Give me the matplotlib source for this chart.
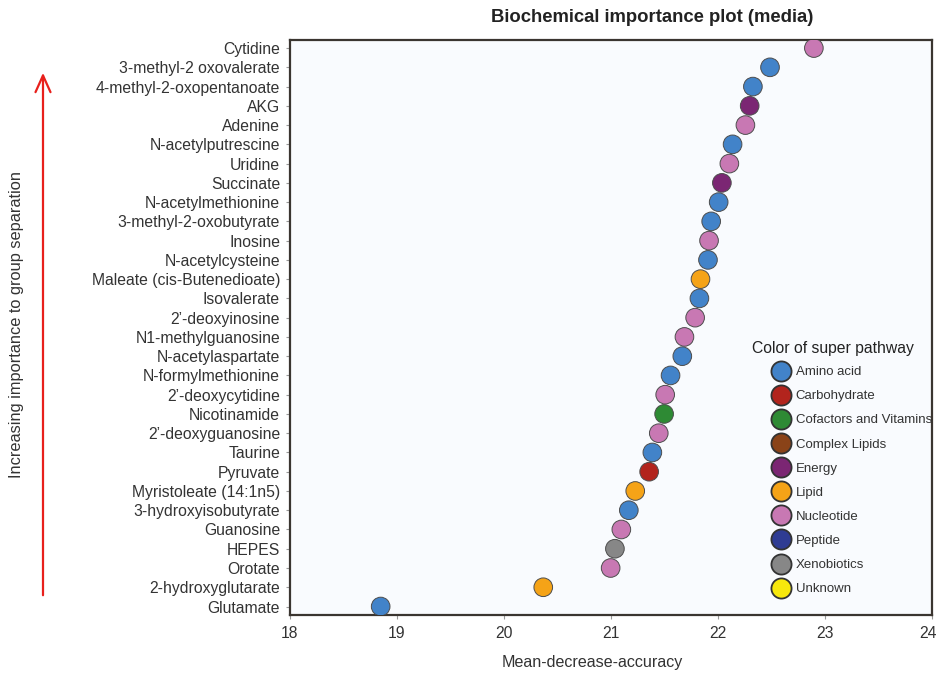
import matplotlib
matplotlib.use("Agg")
import matplotlib.pyplot as plt
import matplotlib.transforms as mtransforms
from matplotlib.lines import Line2D

plt.rcParams['font.family'] = ['Liberation Sans', 'DejaVu Sans']

# ---- data (top to bottom as shown) ----
metabolites = [
    "Cytidine", "3-methyl-2 oxovalerate", "4-methyl-2-oxopentanoate", "AKG",
    "Adenine", "N-acetylputrescine", "Uridine", "Succinate",
    "N-acetylmethionine", "3-methyl-2-oxobutyrate", "Inosine",
    "N-acetylcysteine", "Maleate (cis-Butenedioate)", "Isovalerate",
    "2\u2019-deoxyinosine", "N1-methylguanosine", "N-acetylaspartate",
    "N-formylmethionine", "2\u2019-deoxycytidine", "Nicotinamide",
    "2\u2019-deoxyguanosine", "Taurine", "Pyruvate", "Myristoleate (14:1n5)",
    "3-hydroxyisobutyrate", "Guanosine", "HEPES", "Orotate",
    "2-hydroxyglutarate", "Glutamate",
]
mean_decrease_accuracy = [
    22.90, 22.49, 22.33, 22.30,
    22.26, 22.14, 22.11, 22.04,
    22.01, 21.94, 21.92,
    21.91, 21.84, 21.83,
    21.79, 21.69, 21.67,
    21.56, 21.51, 21.50,
    21.45, 21.39, 21.36, 21.23,
    21.17, 21.10, 21.04, 21.00,
    20.37, 18.85,
]
super_pathway = [
    "Nucleotide", "Amino acid", "Amino acid", "Energy",
    "Nucleotide", "Amino acid", "Nucleotide", "Energy",
    "Amino acid", "Amino acid", "Nucleotide",
    "Amino acid", "Lipid", "Amino acid",
    "Nucleotide", "Nucleotide", "Amino acid",
    "Amino acid", "Nucleotide", "Cofactors and Vitamins",
    "Nucleotide", "Amino acid", "Carbohydrate", "Lipid",
    "Amino acid", "Nucleotide", "Xenobiotics", "Nucleotide",
    "Lipid", "Amino acid",
]
pathway_names = ["Amino acid", "Carbohydrate", "Cofactors and Vitamins",
                 "Complex Lipids", "Energy", "Lipid", "Nucleotide",
                 "Peptide", "Xenobiotics", "Unknown"]
pathway_colors = ["#4283c9", "#b2241d", "#2e8a34", "#8a4318", "#7b2673",
                  "#f5a317", "#c878b3", "#2f3c93", "#878787", "#f7e80c"]
x_ticks = [18, 19, 20, 21, 22, 23, 24]

color_map = dict(zip(pathway_names, pathway_colors))
n = len(metabolites)
ypos = [n - 1 - i for i in range(n)]

fig = plt.figure(figsize=(9.38, 6.73), dpi=100)
ax = fig.add_axes([0.3089, 0.0862, 0.6842, 0.8544])
ax.set_facecolor("#f9fbfe")

ax.scatter(mean_decrease_accuracy, ypos,
           c=[color_map[p] for p in super_pathway],
           s=180, edgecolors="#4d4d4d", linewidths=0.7, zorder=3)

ax.set_xlim(18, 24)
ax.set_ylim(-0.44, n - 1 + 0.42)
ax.set_xticks(x_ticks)
ax.set_xticklabels([str(t) for t in x_ticks])
ax.set_yticks(ypos)
ax.set_yticklabels(metabolites)
ax.tick_params(axis='both', direction='out', length=3, width=0.8,
               color="#999999", labelcolor="#333333", labelsize=11.3)
ax.tick_params(axis='x', pad=5)
ax.tick_params(axis='y', pad=4)
for side in ["left", "bottom", "top", "right"]:
    ax.spines[side].set_color("#3a3530")
    ax.spines[side].set_linewidth(1.6)

# keep the last x tick label inside the figure
last_lbl = ax.get_xticklabels()[-1]
last_lbl.set_transform(last_lbl.get_transform() +
                       mtransforms.ScaledTranslation(-4 / 100, 0,
                                                     fig.dpi_scale_trans))

# title and axis labels
fig.text(652 / 938, 1 - 18 / 673, "Biochemical importance plot (media)",
         ha="center", va="center", fontsize=13.3, fontweight="bold",
         color="#222222")
fig.text(592 / 938, 1 - 663 / 673, "Mean-decrease-accuracy",
         ha="center", va="center", fontsize=11.6, color="#333333")
fig.text(17 / 938, 1 - 324 / 673,
         "Increasing importance to group separation",
         ha="center", va="center", rotation=90, fontsize=11.8,
         color="#333333")

# red arrow
fig.add_artist(matplotlib.patches.FancyArrowPatch(
    (43 / 938, 1 - 598 / 673), (43 / 938, 1 - 70 / 673),
    transform=fig.transFigure, arrowstyle="->,head_length=8,head_width=3.6",
    color="#e8201c", linewidth=1.6, mutation_scale=1.5))

# legend
fig.text(752 / 938, 1 - 348 / 673, "Color of super pathway",
         ha="left", va="center", fontsize=11.3, color="#222222")
handles = [Line2D([0], [0], marker='o', linestyle='none', markersize=14.5,
                  markerfacecolor=c, markeredgecolor="#333333",
                  markeredgewidth=1.3, label=name)
           for name, c in zip(pathway_names, pathway_colors)]
leg = ax.legend(handles=handles, loc="upper left",
                bbox_to_anchor=(771 / 938, 1 - 366 / 673),
                bbox_transform=fig.transFigure, frameon=False,
                fontsize=9.5, labelspacing=0.9, borderpad=0.0,
                borderaxespad=0.0, handletextpad=0.38, handlelength=1.5)
for t in leg.get_texts():
    t.set_color("#333333")

fig.savefig("out.png", dpi=100)
